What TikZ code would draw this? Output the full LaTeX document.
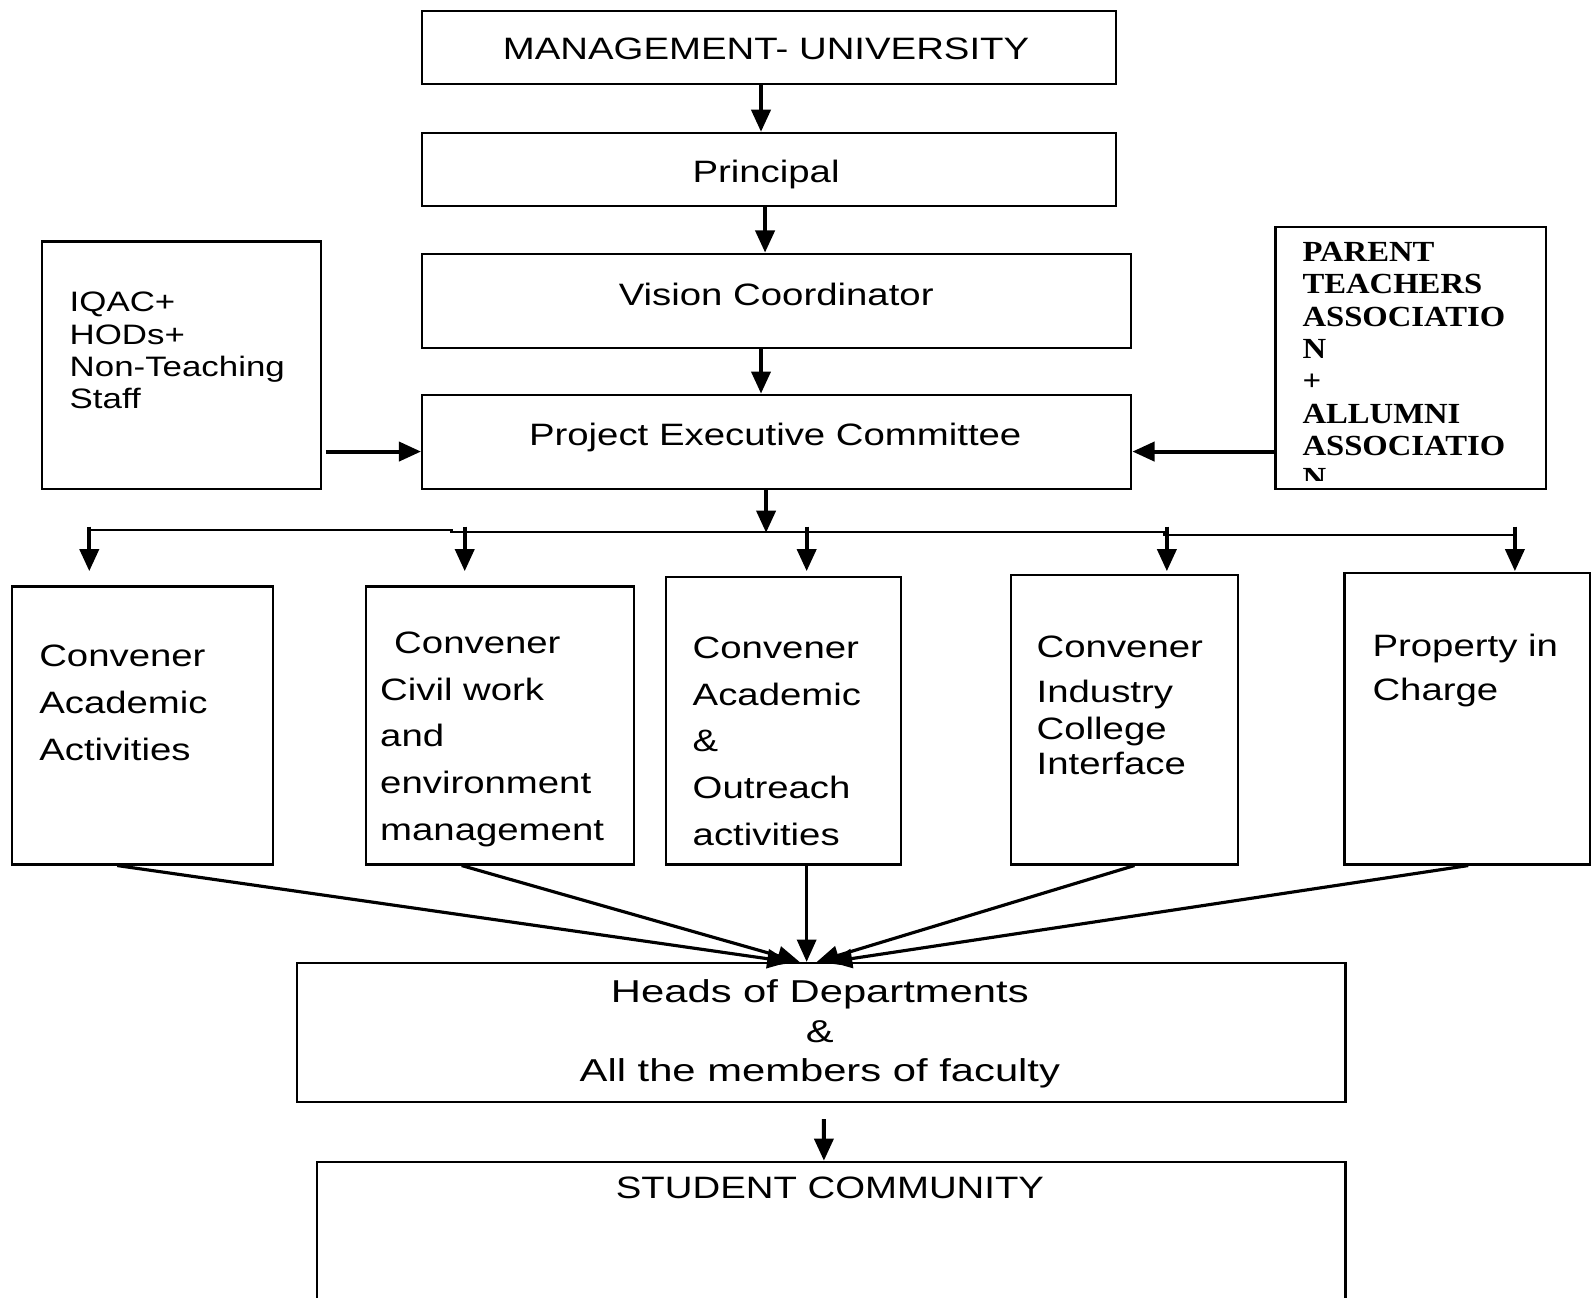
\documentclass[tikz,border=0pt]{standalone}
\usepackage{fontspec}
\setmainfont{Liberation Sans}[FakeStretch=1.24]
\newfontfamily\hodfont{Liberation Sans}[FakeStretch=1.32]
\newfontfamily\ptafont{Liberation Serif}[FakeStretch=1.12]
\usepackage{tikz}
\usetikzlibrary{arrows.meta}
\usetikzlibrary{calc}
\usetikzlibrary{fit}
\tikzstyle{box}=[draw,line width=.6pt,inner sep=0pt]
\tikzstyle{txt}=[inner sep=0pt,font=\fontsize{8.8}{13.3}\selectfont]
\tikzstyle{lst}=[txt,anchor=north west,align=left]
\tikzstyle{arrhead}=[>/.tip={Triangle[length=6.3pt,width=5.4pt]}]
\tikzstyle{arr}=[line width=1.15pt,arrhead,->]
\tikzstyle{arrthin}=[line width=.9pt,arrhead,->]
\tikzstyle{bus}=[line width=.6pt]

\begin{document}
\begin{tikzpicture}[x=0.010147cm,y=-0.010147cm]
  \useasboundingbox (0,0) rectangle (1568,1279);
  % boxes
  \node[box,fit={(416,11)(1100,83)}] (mgmt) {};
  \node[box,fit={(416,131)(1100,203)}] (prin) {};
  \node[box,fit={(416,250)(1115,343)}] (vis) {};
  \node[box,fit={(416,389)(1115,482)}] (pec) {};
  \node[box,fit={(41,238)(316,482)}] (iqac) {};
  \node[box,fit={(1257,224)(1524,482)}] (pta) {};
  \node[box,fit={(12,578)(269,852)}] (b1) {};
  \node[box,fit={(361,578)(625,852)}] (b2) {};
  \node[box,fit={(656,569)(888,852)}] (b3) {};
  \node[box,fit={(996,567)(1220,852)}] (b4) {};
  \node[box,fit={(1325,565)(1567,852)}] (b5) {};
  \node[box,fit={(293,949)(1326,1086)}] (hod) {};
  \node[box,fit={(312,1145)(1326,1310)}] (stu) {};
  % texts
  \node[txt,anchor=base] (tmgmt) at (755,59) {MANAGEMENT- UNIVERSITY};
  \node[txt,anchor=base] (tprin) at (755,179.4) {Principal};
  \node[txt,anchor=base] (tvis) at (765,301) {Vision Coordinator};
  \node[txt,anchor=base] (tpec) at (764,439) {Project Executive Committee};
  \node[txt,anchor=base] (tstu) at (818,1181) {STUDENT COMMUNITY};
  \node[txt,anchor=north,align=center,font=\hodfont\fontsize{9}{11.26}\selectfont] (thod) at (808,965)
    {Heads of Departments\\\&\\All the members of faculty};
  \node[lst,font=\fontsize{8}{9.24}\selectfont] (tiqac) at (68,287) {IQAC+\\HODs+\\Non-Teaching\\Staff};
  \begin{scope}
    \clip (pta.north west) rectangle ($(pta.south east)+(0,-9)$);
    \node[lst,font=\ptafont\bfseries\fontsize{8.3}{9.2}\selectfont] (tpta) at (1283,238)
      {PARENT\\TEACHERS\\ASSOCIATIO\\N\\+\\ALLUMNI\\ASSOCIATIO\\N};
  \end{scope}
  \node[lst] (tb1) at (38,635) {Convener\\Academic\\Activities};
  \node[lst] (tb2) at (374,622) {\hspace*{4pt}Convener\\Civil work\\and\\environment\\management};
  \node[lst] (tb3) at (682,627) {Convener\\Academic\\\&\\Outreach\\activities};
  \node[lst,font=\fontsize{8.8}{12.7}\selectfont] (tb4) at (1021,626) {Convener\\Industry\\[-2pt]College\\[-2.9pt]Interface};
  \node[lst,font=\fontsize{8.8}{12.7}\selectfont] (tb5) at (1352,624) {Property in\\Charge};
  % connectors
  \draw[arr] ($(mgmt.south)+(-8,0)$) -- ($(prin.north)+(-8,0)$);
  \draw[arr] ($(prin.south)+(-4,0)$) -- ($(vis.north)+(-11.5,0)$);
  \draw[arr] ($(vis.south)+(-15.5,0)$) -- ($(pec.north)+(-15.5,0)$);
  \draw[arr] ($(iqac.south east)+(4,-38)$) -- ($(pec.south west)+(0,-38)$);
  \draw[arr] ($(pta.south west)+(0,-38)$) -- ($(pec.south east)+(0,-38)$);
  \draw[arr] ($(pec.south)+(-10.5,0)$) -- ($(pec.south)+(-10.5,42)$);
  \coordinate (busl) at (88,522);
  \coordinate (busr) at (1493,527);
  \draw[bus] (busl) -- (445,522) -- (445,524.5) -- (1147,524.5) -- (1147,527) -- (busr);
  \foreach \b/\dx/\dy in {b1/-52.5/14,b2/-35/14,b3/23/5,b4/42/3,b5/47/1}
    \draw[arr] ($(\b.north)+(\dx,-\dy-44)$) -- ($(\b.north)+(\dx,-\dy)$);
  \foreach \b/\s/\t in {b1/-25/-31.5,b2/-38/-21.5,b3/23/-14.5,b4/10/-4.5,b5/1/8.5}
    \draw[arrthin] ($(\b.south)+(\s,0)$) -- ($(hod.north)+(\t,0)$);
  \draw[arr] ($(hod.south)+(2.5,16)$) -- ($(stu.north)+(-7,0)$);
\end{tikzpicture}
\end{document}
